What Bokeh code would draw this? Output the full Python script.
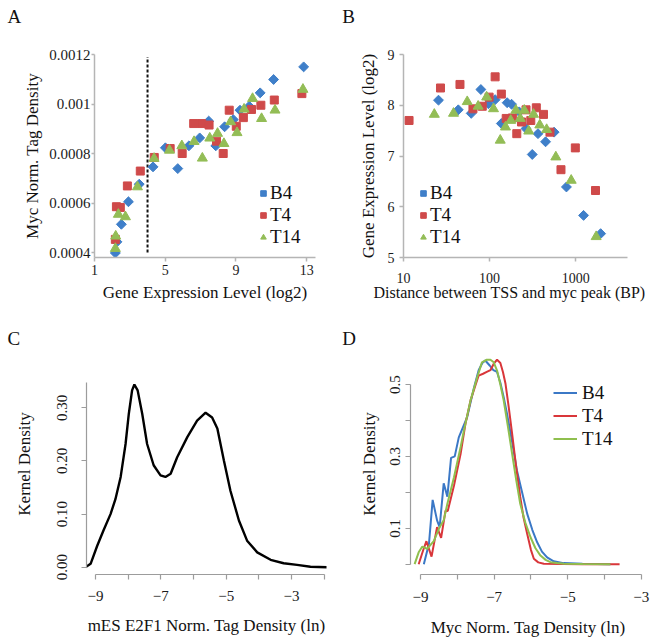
import math
from bokeh.plotting import figure
from bokeh.layouts import column, row
from bokeh.models import FixedTicker, Legend, LegendItem, Range1d
from bokeh.embed import file_html
from bokeh.resources import INLINE
from bokeh.core.properties import value

SERIF = "Liberation Serif"
BLUE = "#3f7fc9"
RED = "#cf4a4a"
GREEN = "#93bd56"
LBLUE = "#3b78c6"
LRED = "#d9363a"
LGREEN = "#8fbf4e"

# ---------------- Panel A data ----------------
a_b4_x = [2.18, 2.27, 2.52, 2.92, 3.53, 4.31, 5.01, 5.71, 6.34, 6.95, 7.46, 7.86, 8.36, 8.85, 9.23, 9.75, 10.37, 11.13, 12.83]
a_b4_y = [0.000398, 0.000443, 0.000514, 0.000605, 0.000676, 0.000746, 0.000823, 0.000739, 0.000831, 0.000863, 0.000931, 0.000831, 0.000908, 0.000937, 0.000975, 0.000991, 0.001045, 0.001099, 0.00115]
a_t4_x = [2.18, 2.24, 2.46, 2.86, 3.59, 4.38, 5.28, 5.96, 6.61, 7.06, 7.48, 7.90, 8.28, 8.62, 9.02, 9.42, 9.88, 10.41, 11.17, 12.73]
a_t4_y = [0.000453, 0.000585, 0.000582, 0.000669, 0.000729, 0.000784, 0.00082, 0.0008, 0.000921, 0.000921, 0.000915, 0.00085, 0.0008, 0.000975, 0.00091, 0.000945, 0.000978, 0.000995, 0.001016, 0.001042]
a_t14_x = [2.18, 2.20, 2.35, 2.75, 3.43, 4.37, 5.24, 5.94, 6.63, 7.10, 7.52, 7.96, 8.32, 8.70, 9.06, 9.46, 9.94, 10.45, 11.21, 12.79]
a_t14_y = [0.000416, 0.000466, 0.000554, 0.000544, 0.000665, 0.00078, 0.000813, 0.000831, 0.000848, 0.000781, 0.000862, 0.000881, 0.00084, 0.000928, 0.000884, 0.000979, 0.001022, 0.000941, 0.000975, 0.001059]
a_cutoff_x = [4.0]
a_cutoff_y = [0.0004, 0.00119]
a_xticks = [1, 5, 9, 13]
a_yticks = [0.0004, 0.0006, 0.0008, 0.001, 0.0012]
a_ylabels = ["0.0004", "0.0006", "0.0008", "0.001", "0.0012"]

# ---------------- Panel B data ----------------
b_b4_x = [25.5, 43.3, 61.2, 79.2, 96.9, 116, 137, 160, 180, 221, 265, 313, 365, 447, 562, 781, 1235, 1950]
b_b4_y = [8.10, 7.91, 7.84, 8.31, 8.03, 8.11, 7.64, 8.05, 8.02, 7.87, 7.54, 7.03, 7.44, 7.28, 7.47, 6.39, 5.83, 5.47]
b_t4_x = [11.6, 26.9, 45.3, 64.1, 82.2, 98.7, 116, 137, 156, 184, 207, 235, 265, 301, 349, 423, 503, 675, 991, 1700]
b_t4_y = [7.70, 8.34, 8.41, 7.93, 7.98, 8.16, 8.56, 8.22, 7.74, 7.75, 7.44, 7.67, 7.91, 7.70, 7.95, 7.82, 7.47, 6.73, 7.16, 6.32]
b_t14_x = [22.8, 38.1, 55, 73.6, 92.5, 111, 133, 153, 176, 202, 227, 253, 285, 324, 383, 460, 588, 887, 1730]
b_t14_y = [7.82, 7.84, 8.07, 7.98, 8.16, 7.93, 7.31, 7.57, 7.70, 7.90, 7.74, 7.90, 7.49, 7.82, 7.61, 7.52, 6.98, 6.52, 5.41]
b_xticks = [10, 100, 1000]
b_yticks = [5, 6, 7, 8, 9]

# ---------------- Panel C data ----------------
c_x = [-9.31, -9.15, -8.95, -8.75, -8.54, -8.39, -8.23, -8.08, -7.98, -7.88, -7.81, -7.71, -7.57, -7.42, -7.22, -7.01, -6.86, -6.70, -6.50, -6.19, -5.89, -5.63, -5.43, -5.27, -5.07, -4.87, -4.61, -4.36, -4.05, -3.64, -3.24, -2.83, -2.42, -1.91]
c_y = [0.0, 0.0064, 0.04, 0.07, 0.1, 0.128, 0.17, 0.232, 0.289, 0.333, 0.344, 0.333, 0.289, 0.232, 0.192, 0.173, 0.17, 0.176, 0.207, 0.245, 0.276, 0.291, 0.282, 0.261, 0.201, 0.144, 0.088, 0.05, 0.028, 0.014, 0.0075, 0.0045, 0.001, 0.0]
c_xticks = [-9, -8, -7, -6, -5, -4, -3, -2]
c_yticks = [0.0, 0.1, 0.2, 0.3]

# ---------------- Panel D data ----------------
d_b4_x = [-8.91, -8.77, -8.67, -8.55, -8.48, -8.37, -8.27, -8.17, -8.07, -7.96, -7.85, -7.73, -7.55, -7.42, -7.32, -7.24, -7.12, -7.02, -6.92, -6.83, -6.74, -6.65, -6.51, -6.38, -6.24, -6.10, -5.96, -5.83, -5.70, -5.56, -5.38, -5.11, -4.6, -3.84]
d_b4_y = [0.0, 0.057, 0.179, 0.122, 0.103, 0.225, 0.188, 0.296, 0.30, 0.353, 0.38, 0.41, 0.49, 0.54, 0.56, 0.567, 0.553, 0.54, 0.535, 0.505, 0.465, 0.419, 0.34, 0.261, 0.20, 0.14, 0.095, 0.061, 0.035, 0.019, 0.008, 0.003, 0.001, 0.0]
d_t4_x = [-9.05, -8.93, -8.84, -8.70, -8.55, -8.44, -8.32, -8.26, -8.09, -7.91, -7.78, -7.64, -7.50, -7.42, -7.30, -7.20, -7.10, -7.01, -6.92, -6.83, -6.76, -6.69, -6.60, -6.51, -6.40, -6.29, -6.20, -6.10, -6.00, -5.92, -5.80, -5.65, -4.6, -3.59]
d_t4_y = [0.0, 0.038, 0.064, 0.021, 0.103, 0.073, 0.149, 0.148, 0.219, 0.307, 0.39, 0.456, 0.50, 0.525, 0.53, 0.535, 0.54, 0.558, 0.569, 0.56, 0.535, 0.502, 0.435, 0.363, 0.27, 0.187, 0.13, 0.084, 0.04, 0.015, 0.005, 0.001, 0.0, 0.0]
d_t14_x = [-9.16, -9.05, -8.95, -8.82, -8.64, -8.48, -8.37, -8.27, -8.09, -7.91, -7.82, -7.64, -7.46, -7.33, -7.20, -7.10, -7.01, -6.92, -6.83, -6.74, -6.62, -6.51, -6.40, -6.29, -6.15, -6.01, -5.88, -5.74, -5.60, -5.47, -5.29, -5.10, -4.6, -3.84]
d_t14_y = [0.0, 0.033, 0.049, 0.043, 0.064, 0.103, 0.122, 0.168, 0.242, 0.326, 0.372, 0.456, 0.52, 0.562, 0.569, 0.569, 0.562, 0.539, 0.50, 0.456, 0.38, 0.307, 0.235, 0.168, 0.115, 0.075, 0.045, 0.024, 0.012, 0.0056, 0.003, 0.001, 0.0005, 0.0]
d_xticks = [-9, -8, -7, -6, -5, -4, -3]
d_yticks = [0.0, 0.1, 0.2, 0.3, 0.4, 0.5]

series_names = ["B4", "T4", "T14"]
panel_letters_top = ["A", "B"]
panel_letters_bottom = ["C", "D"]


def base_fig(w, h, xr, yr, left, right, top, bottom, x_axis_type="linear"):
    p = figure(width=w, height=h, x_range=xr, y_range=yr, x_axis_type=x_axis_type,
               output_backend="svg", toolbar_location=None,
               min_border_left=left, min_border_right=right,
               min_border_top=top, min_border_bottom=bottom)
    p.outline_line_color = None
    p.xgrid.visible = False
    p.ygrid.visible = False
    p.background_fill_color = "white"
    p.border_fill_color = "white"
    return p


def strip_fig(h, letters, xs, y):
    s = figure(width=664, height=h, x_range=Range1d(0, 664), y_range=Range1d(0, h),
               output_backend="svg", toolbar_location=None,
               x_axis_location=None, y_axis_location=None, min_border=0)
    s.outline_line_color = None
    s.xgrid.visible = False
    s.ygrid.visible = False
    s.text(x=xs, y=[y] * len(xs), text=letters, text_font=value(SERIF),
           text_font_size="19px", text_color="#111111",
           text_align="left", text_baseline="alphabetic")
    return s


def style_axis(ax, color, lw, tick_size, label_size, tick_out, label_standoff, title_standoff):
    ax.axis_line_color = color
    ax.axis_line_width = lw
    ax.major_tick_line_color = color
    ax.major_tick_line_width = lw
    ax.minor_tick_line_color = None
    ax.major_tick_in = 0
    ax.major_tick_out = tick_out
    ax.major_label_text_font = SERIF
    ax.major_label_text_font_size = tick_size
    ax.major_label_text_color = "#1a1a1a"
    ax.major_label_standoff = label_standoff
    ax.axis_label_text_font = SERIF
    ax.axis_label_text_font_size = label_size
    ax.axis_label_text_font_style = "normal"
    ax.axis_label_text_color = "#111111"
    ax.axis_label_standoff = title_standoff


def scatter_legend(p, renderers, lx, ly):
    items = [LegendItem(label=n, renderers=[r]) for n, r in zip(series_names, renderers)]
    lg = Legend(items=items, location=(lx, ly), orientation="vertical",
                glyph_width=14, glyph_height=22, label_height=22, label_standoff=0,
                spacing=0, padding=0, margin=0, border_line_color=None,
                background_fill_alpha=0, label_text_font=SERIF,
                label_text_font_size="19px", label_text_color="#111111")
    p.add_layout(lg, "center")


# ---------------- Panel A ----------------
pa = base_fig(332, 285, Range1d(1, 13.5), Range1d(0.0003798, 0.0012), 94, 17, 22, 60)
pa.segment(x0=a_cutoff_x, y0=[a_cutoff_y[0]], x1=a_cutoff_x, y1=[a_cutoff_y[1]],
           line_color="#111111", line_width=2, line_dash="3 2")
ra1 = pa.scatter(a_b4_x, a_b4_y, marker="square", angle=math.pi / 4, size=7,
                 fill_color=BLUE, line_color=BLUE)
ra2 = pa.scatter(a_t4_x, a_t4_y, marker="square", size=8, fill_color=RED, line_color=RED)
ra3 = pa.scatter(a_t14_x, a_t14_y, marker="triangle", size=10, fill_color=GREEN, line_color=GREEN)
style_axis(pa.xaxis[0], "#b5b5b5", 1.5, "14px", "17px", 4, 3, 5)
style_axis(pa.yaxis[0], "#b5b5b5", 1.5, "15px", "17px", 3, 1, 4)
pa.xaxis.ticker = FixedTicker(ticks=a_xticks)
pa.yaxis.ticker = FixedTicker(ticks=a_yticks)
pa.yaxis.major_label_overrides = {v: s for v, s in zip(a_yticks, a_ylabels)}
pa.xaxis.axis_label = "Gene Expression Level (log2)"
pa.yaxis.axis_label = "Myc Norm. Tag Density"
scatter_legend(pa, [ra1, ra2, ra3], 162, 9)

# ---------------- Panel B ----------------
pb = base_fig(332, 285, Range1d(10, 4000), Range1d(5, 9), 71, 37, 22, 60, x_axis_type="log")
rb1 = pb.scatter(b_b4_x, b_b4_y, marker="square", angle=math.pi / 4, size=7,
                 fill_color=BLUE, line_color=BLUE)
rb2 = pb.scatter(b_t4_x, b_t4_y, marker="square", size=8, fill_color=RED, line_color=RED)
rb3 = pb.scatter(b_t14_x, b_t14_y, marker="triangle", size=10, fill_color=GREEN, line_color=GREEN)
style_axis(pb.xaxis[0], "#b5b5b5", 1.5, "14px", "16px", 4, 11, -2)
style_axis(pb.yaxis[0], "#b5b5b5", 1.5, "14px", "17px", 4, 5, 7)
pb.xaxis.ticker = FixedTicker(ticks=b_xticks)
pb.xaxis.major_label_overrides = {v: str(v) for v in b_xticks}
pb.yaxis.ticker = FixedTicker(ticks=b_yticks)
pb.xaxis.axis_label = "Distance between TSS and myc peak (BP)\u00a0\u00a0\u00a0"
pb.yaxis.axis_label = "Gene Expression Level (log2)"
scatter_legend(pb, [rb1, rb2, rb3], 13, 9)

# ---------------- Panel C ----------------
pc = base_fig(332, 290, Range1d(-9.2755, -1.929), Range1d(-0.0137, 0.4024), 86, 6, 0, 69)
pc.line(c_x, c_y, line_color="black", line_width=2.4)
style_axis(pc.xaxis[0], "#9c9c9c", 1.2, "15px", "17px", 5, 11, 12)
style_axis(pc.yaxis[0], "#9c9c9c", 1.2, "15px", "17px", 5, 14, 21)
pc.xaxis.ticker = FixedTicker(ticks=c_xticks)
pc.xaxis.major_label_overrides = {v: ("\u2212" + str(abs(v)) if v % 2 else "") for v in c_xticks}
pc.xaxis.bounds = (-9, -2)
pc.yaxis.ticker = FixedTicker(ticks=c_yticks)
pc.yaxis.major_label_overrides = {v: "%.2f" % v for v in c_yticks}
pc.yaxis.bounds = (0, 0.348)
pc.yaxis.major_label_orientation = "vertical"
pc.xaxis.axis_label = "mES E2F1 Norm. Tag Density (ln)"
pc.yaxis.axis_label = "Kernel Density"

# ---------------- Panel D ----------------
pd_ = base_fig(332, 290, Range1d(-9.272, -2.886), Range1d(-0.0287, 0.5864), 78, 19, 0, 69)
rd1 = pd_.line(d_b4_x, d_b4_y, line_color=LBLUE, line_width=2)
rd2 = pd_.line(d_t4_x, d_t4_y, line_color=LRED, line_width=2)
rd3 = pd_.line(d_t14_x, d_t14_y, line_color=LGREEN, line_width=2)
style_axis(pd_.xaxis[0], "#9c9c9c", 1.2, "15px", "17px", 5, 12, 13)
style_axis(pd_.yaxis[0], "#9c9c9c", 1.2, "15px", "17px", 5, 5, 9)
pd_.xaxis.ticker = FixedTicker(ticks=d_xticks)
pd_.xaxis.major_label_overrides = {v: ("\u2212" + str(abs(v)) if v % 2 else "") for v in d_xticks}
pd_.xaxis.bounds = (-9, -3)
pd_.yaxis.ticker = FixedTicker(ticks=d_yticks)
pd_.yaxis.major_label_overrides = {v: ("%.1f" % v if i % 2 == 1 else "") for i, v in enumerate(d_yticks)}
pd_.yaxis.bounds = (0, 0.5)
pd_.yaxis.major_label_orientation = "vertical"
pd_.xaxis.axis_label = "Myc Norm. Tag Density (ln)"
pd_.yaxis.axis_label = "Kernel Density"
lgd = Legend(items=[LegendItem(label=n, renderers=[r]) for n, r in zip(series_names, [rd1, rd2, rd3])],
             location=(143, 124), glyph_width=24, glyph_height=23, label_height=23,
             label_standoff=5, spacing=0, padding=0, margin=0, border_line_color=None,
             background_fill_alpha=0, label_text_font=SERIF, label_text_font_size="19px",
             label_text_color="#111111")
pd_.add_layout(lgd, "center")

top_strip = strip_fig(32, panel_letters_top, [7, 341.7], 16.5)
bottom_strip = strip_fig(36, panel_letters_bottom, [7, 341.7], 15)

layout = column(top_strip, row(pa, pb), bottom_strip, row(pc, pd_))
open("out.html", "w").write(file_html(layout, INLINE))
